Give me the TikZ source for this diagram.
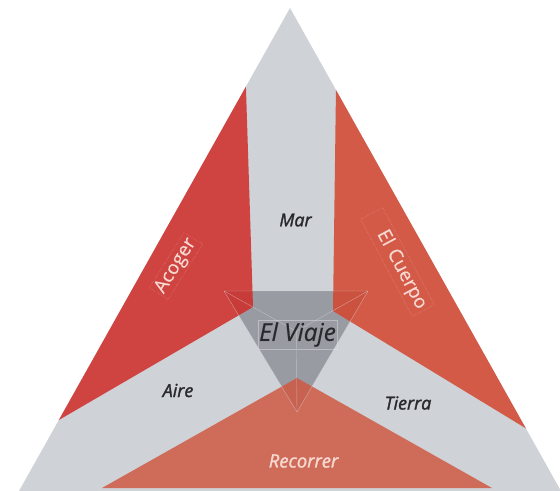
\documentclass[tikz,border=0pt]{standalone}
\usepackage{fontspec}
\setmainfont{Open Sans}
\newfontfamily\labelfont{Open Sans}[FakeBold=1.5]

\definecolor{bandgray}{HTML}{CFD2D7}
\definecolor{hubgray}{HTML}{989BA1}
\definecolor{acogerred}{RGB}{208,43,38}
\definecolor{cuerpored}{RGB}{213,70,47}
\definecolor{recorrercoral}{RGB}{208,89,67}
\definecolor{labeldark}{HTML}{29292D}
\definecolor{labellight}{HTML}{F7D9D2}
\definecolor{edgelight}{HTML}{DCDEE2}

\begin{document}
\begin{tikzpicture}[x=1bp,y=-1bp,
  sector/.style={fill opacity=0.85},
  facet/.style={draw=edgelight, line width=0.4bp, draw opacity=0.55},
  darklabel/.style={text=labeldark, font=\labelfont\itshape\fontsize{18}{20}\selectfont, inner sep=1bp},
  lightlabel/.style={text=labellight, font=\labelfont\fontsize{19}{21}\selectfont},
  textframe/.style={draw=labellight, draw opacity=0.5, densely dotted, line width=0.4bp}]
\useasboundingbox (0,0) rectangle (560,491);
\clip (0,0) rectangle (560,491);

% outer triangle, forming the three gray bands
\coordinate (apex) at (290,8);
\coordinate (bl) at (19,491);
\coordinate (br) at (561,491);
\fill[bandgray] (apex) -- (bl) -- (br) -- cycle;

% central hub, seen as a flat pyramid
\coordinate (h1) at (224,291);
\coordinate (h2) at (368,291);
\coordinate (h3) at (297,412);
\coordinate (hc) at (296.3,331.3);
\fill[hubgray] (h1) -- (h2) -- (h3) -- cycle;

% the three coloured sectors between the bands
\begin{scope}
  \clip (apex) -- (bl) -- (br) -- cycle;
  \fill[acogerred, sector] (245.7,80) -- (253,307) -- (40,431) -- cycle;
  \fill[cuerpored, sector] (336.1,80) -- (333,311) -- (545,440) -- cycle;
  \fill[recorrercoral, sector] (297,378) -- (102,488) -- (492,488) -- cycle;
\end{scope}

% pyramid edges
\draw[facet] (h1) -- (h2) -- (h3) -- cycle;
\draw[facet] (h1) -- (hc) (h2) -- (hc) (h3) -- (hc);

% labels
\node[darklabel] (mar) at (295.5,220) {Mar};
\node[darklabel] (aire) at (178,390.5) {Aire};
\node[darklabel] (tierra) at (408,403) {Tierra};
\node[text=labellight, font=\labelfont\itshape\fontsize{18.5}{20}\selectfont] (recorrer) at (303.5,461) {Recorrer};
\node[text=labeldark, font=\labelfont\itshape\fontsize{24.5}{26}\selectfont, draw=edgelight, draw opacity=0.5,
      line width=0.4bp, inner xsep=1bp, inner ysep=2bp] (viaje) at (297.5,334.5) {El Viaje};
\node[lightlabel, textframe, rotate=58, inner sep=2bp] (acoger) at (176,266) {Acoger};
\node[lightlabel, textframe, rotate=-62, text width=104bp, align=right, inner sep=3bp] (cuerpo) at (397.5,262) {El Cuerpo};
\end{tikzpicture}
\end{document}
